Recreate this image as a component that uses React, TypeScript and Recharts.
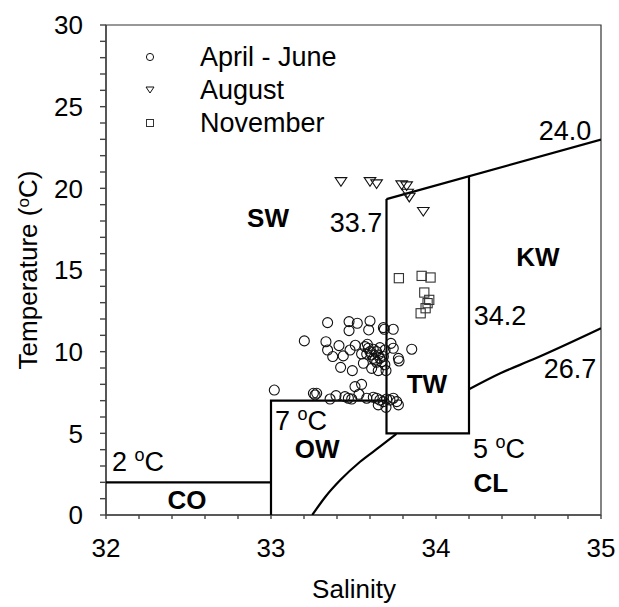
import React from "react";
import { ScatterChart, Scatter, XAxis, YAxis, ReferenceArea, ReferenceDot } from "recharts";

const FONT = "'Liberation Sans', Arial, sans-serif";

// axis ticks (minor ticks get an empty label)
const xTicks = [32, 32.2, 32.4, 32.6, 32.8, 33, 33.2, 33.4, 33.6, 33.8, 34, 34.2, 34.4, 34.6, 34.8, 35];
const yTicks = [0, 1, 2, 3, 4, 5, 6, 7, 8, 9, 10, 11, 12, 13, 14, 15, 16, 17, 18, 19, 20, 21, 22, 23, 24, 25, 26, 27, 28, 29, 30];

// observations: salinity (s), temperature (t)
const aprilJune = [
    { s: 33.343, t: 11.78 }, { s: 33.473, t: 11.84 }, { s: 33.523, t: 11.74 }, { s: 33.6, t: 11.88 },
    { s: 33.473, t: 11.29 }, { s: 33.592, t: 11.33 }, { s: 33.681, t: 11.47 }, { s: 33.687, t: 11.37 },
    { s: 33.741, t: 11.37 }, { s: 33.202, t: 10.66 }, { s: 33.333, t: 10.61 }, { s: 33.343, t: 10.1 },
    { s: 33.374, t: 9.7 }, { s: 33.412, t: 10.37 }, { s: 33.438, t: 9.74 }, { s: 33.479, t: 10.1 },
    { s: 33.511, t: 10.39 }, { s: 33.549, t: 9.86 }, { s: 33.56, t: 9.29 }, { s: 33.57, t: 10.31 },
    { s: 33.584, t: 10.45 }, { s: 33.59, t: 10.21 }, { s: 33.6, t: 10.0 }, { s: 33.61, t: 9.8 },
    { s: 33.62, t: 9.59 }, { s: 33.63, t: 9.49 }, { s: 33.64, t: 10.0 }, { s: 33.65, t: 9.8 },
    { s: 33.66, t: 9.59 }, { s: 33.671, t: 9.39 }, { s: 33.681, t: 9.7 }, { s: 33.691, t: 10.1 },
    { s: 33.727, t: 10.51 }, { s: 33.741, t: 10.21 }, { s: 33.772, t: 9.59 }, { s: 33.776, t: 9.43 },
    { s: 33.853, t: 10.15 }, { s: 33.422, t: 9.04 }, { s: 33.493, t: 8.84 }, { s: 33.61, t: 8.98 },
    { s: 33.65, t: 8.84 }, { s: 33.697, t: 8.84 }, { s: 33.509, t: 7.86 }, { s: 33.549, t: 8.0 },
    { s: 33.257, t: 7.45 }, { s: 33.277, t: 7.45 }, { s: 33.267, t: 7.35 }, { s: 33.358, t: 7.1 },
    { s: 33.394, t: 7.31 }, { s: 33.448, t: 7.25 }, { s: 33.469, t: 7.15 }, { s: 33.489, t: 7.1 },
    { s: 33.533, t: 7.39 }, { s: 33.58, t: 7.15 }, { s: 33.62, t: 7.21 }, { s: 33.64, t: 7.15 },
    { s: 33.66, t: 7.04 }, { s: 33.681, t: 6.94 }, { s: 33.701, t: 7.1 }, { s: 33.721, t: 7.04 },
    { s: 33.741, t: 7.15 }, { s: 33.762, t: 6.94 }, { s: 33.772, t: 6.74 }, { s: 33.697, t: 6.59 },
    { s: 33.65, t: 6.74 }, { s: 33.02, t: 7.65 }, { s: 33.58, t: 9.85 }, { s: 33.62, t: 10.15 },
    { s: 33.66, t: 10.25 }, { s: 33.64, t: 9.35 }, { s: 33.69, t: 9.2 },
];

const august = [
    { s: 33.424, t: 20.41 }, { s: 33.6, t: 20.41 }, { s: 33.64, t: 20.27 }, { s: 33.792, t: 20.21 },
    { s: 33.822, t: 20.15 }, { s: 33.828, t: 19.7 }, { s: 33.838, t: 19.45 }, { s: 33.923, t: 18.58 },
];

const november = [
    { s: 33.775, t: 14.5 }, { s: 33.913, t: 14.64 }, { s: 33.967, t: 14.54 }, { s: 33.929, t: 13.62 },
    { s: 33.959, t: 13.17 }, { s: 33.949, t: 12.97 }, { s: 33.937, t: 12.66 }, { s: 33.907, t: 12.35 },
];

// water mass boundaries
const coBound = [{ s: 32, t: 2 }, { s: 33, t: 2 }];
const owBound = [{ s: 33, t: 0 }, { s: 33, t: 7 }, { s: 33.7, t: 7 }];
const twBound = [{ s: 33.7, t: 19.34 }, { s: 33.7, t: 5 }, { s: 34.2, t: 5 }, { s: 34.2, t: 20.75 }];
const sigma240 = [{ s: 33.7, t: 19.34 }, { s: 35, t: 22.98 }];
const sigma267a = [
    { s: 33.25, t: 0 }, { s: 33.33, t: 1.12 }, { s: 33.42, t: 2.14 },
    { s: 33.54, t: 3.26 }, { s: 33.66, t: 4.18 }, { s: 33.76, t: 4.96 },
];
const sigma267b = [{ s: 34.2, t: 7.7 }, { s: 34.39, t: 8.68 }, { s: 34.59, t: 9.53 }, { s: 35, t: 11.43 }];

const regionLabels = [
    { s: 32.982, t: 17.64, text: "SW" },
    { s: 34.618, t: 15.25, text: "KW" },
    { s: 33.945, t: 7.47, text: "TW" },
    { s: 33.28, t: 3.49, text: "OW" },
    { s: 34.333, t: 1.41, text: "CL" },
    { s: 32.491, t: 0.37, text: "CO" },
];
const lineLabels = [
    { s: 34.782, t: 22.96, text: "24.0" },
    { s: 33.515, t: 17.33, text: "33.7" },
    { s: 34.388, t: 11.63, text: "34.2" },
    { s: 34.812, t: 8.39, text: "26.7" },
];
const tempLabels = [
    { s: 32.036, t: 2.69, text: "2" },
    { s: 33.024, t: 5.21, text: "7" },
    { s: 34.224, t: 3.49, text: "5" },
];

const legendItems = [
    { name: "April - June", kind: "circle" },
    { name: "August", kind: "tri" },
    { name: "November", kind: "square" },
];

const CircleMark = (p: any) => (
    <circle cx={p.cx} cy={p.cy} r={5} fill="none" stroke="#111" strokeWidth={1.1} />
);
const TriMark = (p: any) => (
    <polygon
        points={`${p.cx - 5.8},${p.cy - 4} ${p.cx + 5.8},${p.cy - 4} ${p.cx},${p.cy + 4.6}`}
        fill="none"
        stroke="#111"
        strokeWidth={1.1}
    />
);
const SquareMark = (p: any) => (
    <rect x={p.cx - 4.6} y={p.cy - 4.6} width={9.2} height={9.2} fill="none" stroke="#333" strokeWidth={1.1} />
);
const NoMark = () => <g />;

const LegendSymbol = ({ kind }: { kind: string }) => (
    <svg width={20} height={20}>
        {kind === "circle" && <circle cx={10} cy={10} r={3.6} fill="none" stroke="#111" />}
        {kind === "tri" && <polygon points="6,7 14,7 10,13" fill="none" stroke="#111" />}
        {kind === "square" && <rect x={6.5} y={6.5} width={7} height={7} fill="none" stroke="#333" />}
    </svg>
);

const lineStyle = { stroke: "#000", strokeWidth: 2.2 };

export default function App() {
    return (
        <div style={{ position: "absolute", left: 0, top: 0, width: 619, height: 607, fontFamily: FONT }}>
            <ScatterChart width={619} height={607} margin={{ top: 25, right: 18, bottom: 0, left: 0 }}>
                <XAxis
                    type="number"
                    dataKey="s"
                    domain={[32, 35]}
                    ticks={xTicks}
                    interval={0}
                    allowDataOverflow
                    tickSize={4}
                    tickMargin={20}
                    height={92}
                    stroke="#444"
                    strokeWidth={1.4}
                    tick={{ fill: "#000", fontSize: 26, fontFamily: FONT }}
                    tickFormatter={(v: number) => (Math.abs(v - Math.round(v)) < 1e-6 ? String(Math.round(v)) : "")}
                />
                <YAxis
                    type="number"
                    dataKey="t"
                    domain={[0, 30]}
                    ticks={yTicks}
                    interval={0}
                    allowDataOverflow
                    tickSize={6}
                    tickMargin={17}
                    width={106}
                    stroke="#444"
                    strokeWidth={1.4}
                    tick={{ fill: "#000", fontSize: 26, fontFamily: FONT }}
                    tickFormatter={(v: number) => (v % 5 === 0 ? String(v) : "")}
                />
                <ReferenceArea x1={32} x2={35} y1={0} y2={30} fill="none" stroke="#333" strokeWidth={1.2} />

                <Scatter data={coBound} line={lineStyle} shape={NoMark} isAnimationActive={false} legendType="none" />
                <Scatter data={owBound} line={lineStyle} shape={NoMark} isAnimationActive={false} legendType="none" />
                <Scatter data={twBound} line={lineStyle} shape={NoMark} isAnimationActive={false} legendType="none" />
                <Scatter data={sigma240} line={lineStyle} shape={NoMark} isAnimationActive={false} legendType="none" />
                <Scatter
                    data={sigma267a}
                    line={lineStyle}
                    lineJointType="monotoneX"
                    shape={NoMark}
                    isAnimationActive={false}
                    legendType="none"
                />
                <Scatter
                    data={sigma267b}
                    line={lineStyle}
                    lineJointType="monotoneX"
                    shape={NoMark}
                    isAnimationActive={false}
                    legendType="none"
                />

                <Scatter name="April - June" data={aprilJune} shape={CircleMark} isAnimationActive={false} />
                <Scatter name="August" data={august} shape={TriMark} isAnimationActive={false} />
                <Scatter name="November" data={november} shape={SquareMark} isAnimationActive={false} />

                {regionLabels.map((l) => (
                    <ReferenceDot
                        key={l.text}
                        x={l.s}
                        y={l.t}
                        r={0}
                        shape={(p: any) => (
                            <text x={p.cx} y={p.cy} textAnchor="middle" fontSize={26} fontWeight="bold" fontFamily={FONT} fill="#000">
                                {l.text}
                            </text>
                        )}
                    />
                ))}
                {lineLabels.map((l) => (
                    <ReferenceDot
                        key={l.text}
                        x={l.s}
                        y={l.t}
                        r={0}
                        shape={(p: any) => (
                            <text x={p.cx} y={p.cy} textAnchor="middle" fontSize={27} fontFamily={FONT} fill="#000">
                                {l.text}
                            </text>
                        )}
                    />
                ))}
                {tempLabels.map((l) => (
                    <ReferenceDot
                        key={"t" + l.text}
                        x={l.s}
                        y={l.t}
                        r={0}
                        shape={(p: any) => (
                            <text x={p.cx} y={p.cy} textAnchor="start" fontSize={27} fontFamily={FONT} fill="#000">
                                {l.text + " "}
                                <tspan dy={-10} fontSize={18}>o</tspan>
                                <tspan dy={10}>C</tspan>
                            </text>
                        )}
                    />
                ))}
            </ScatterChart>

            {/* legend */}
            <div style={{ position: "absolute", left: 140, top: 40.5 }}>
                {legendItems.map((it) => (
                    <div key={it.name} style={{ display: "flex", alignItems: "center", height: 33 }}>
                        <LegendSymbol kind={it.kind} />
                        <span style={{ marginLeft: 40, fontSize: 27, lineHeight: "33px", color: "#000" }}>{it.name}</span>
                    </div>
                ))}
            </div>

            {/* axis titles */}
            <div
                style={{
                    position: "absolute",
                    left: 254,
                    top: 574,
                    width: 200,
                    textAlign: "center",
                    fontSize: 26,
                    lineHeight: "30px",
                }}
            >
                Salinity
            </div>
            <div
                style={{
                    position: "absolute",
                    left: -126,
                    top: 255,
                    width: 300,
                    height: 30,
                    textAlign: "center",
                    fontSize: 26,
                    lineHeight: "30px",
                    transform: "rotate(-90deg)",
                    whiteSpace: "nowrap",
                }}
            >
                Temperature (<span style={{ fontSize: 17, verticalAlign: "8px" }}>o</span>C)
            </div>
        </div>
    );
}
